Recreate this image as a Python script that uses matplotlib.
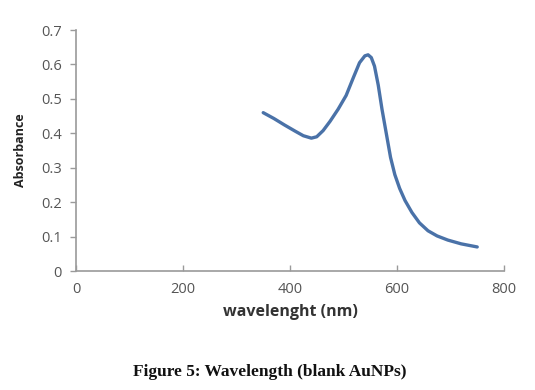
import matplotlib
matplotlib.use('Agg')
import matplotlib.pyplot as plt

wavelength = [350, 370, 390, 410, 425, 440, 450, 462, 475, 490, 505, 518, 530, 540, 546, 552, 558, 565,
              572, 580, 588, 596, 605, 615, 628, 642, 658, 675, 695, 720, 750]
absorbance = [0.460, 0.443, 0.424, 0.406, 0.393, 0.386, 0.390, 0.408, 0.435, 0.470, 0.510, 0.560, 0.605,
              0.625, 0.628, 0.620, 0.595, 0.540, 0.470, 0.400, 0.330, 0.280, 0.240, 0.205, 0.170, 0.140,
              0.117, 0.102, 0.090, 0.079, 0.070]

x_ticks = [0, 200, 400, 600, 800]
y_ticks = [0, 0.1, 0.2, 0.3, 0.4, 0.5, 0.6, 0.7]
y_labels = ['0', '0.1', '0.2', '0.3', '0.4', '0.5', '0.6', '0.7']

plt.rcParams['font.family'] = ['Open Sans', 'DejaVu Sans']

fig = plt.figure(figsize=(5.35, 3.9), dpi=100)
ax = fig.add_axes([0.142, 0.305, 0.8, 0.618])

ax.plot(wavelength, absorbance, '-', color='#4a72a8', linewidth=2.4,
        solid_joinstyle='round', solid_capstyle='round')

ax.set_xlim(0, 800)
ax.set_ylim(0, 0.7)
ax.set_xticks(x_ticks)
ax.set_yticks(y_ticks)
ax.set_yticklabels(y_labels)

for s in ['top', 'right']:
    ax.spines[s].set_visible(False)
for s in ['left', 'bottom']:
    ax.spines[s].set_color('#9a9a9a')
    ax.spines[s].set_linewidth(1.2)

ax.tick_params(axis='y', direction='out', length=4, color='#9a9a9a', width=1.0,
               labelsize=10.5, labelcolor='#555555', pad=6)
ax.tick_params(axis='x', direction='in', length=4, color='#9a9a9a', width=1.0,
               labelsize=10.5, labelcolor='#555555', pad=8)

ax.set_xlabel('wavelenght (nm)', fontsize=11.5, fontweight='bold', color='#333333', labelpad=5)
ax.set_ylabel('Absorbance', fontsize=9, fontweight='bold', color='#222222', labelpad=10)

fig.text(0.505, 0.045, 'Figure 5: Wavelength (blank AuNPs)', ha='center', va='center',
         fontsize=12.5, fontweight='bold', family='Liberation Serif', color='#111111')

fig.savefig('out.png', dpi=100)
